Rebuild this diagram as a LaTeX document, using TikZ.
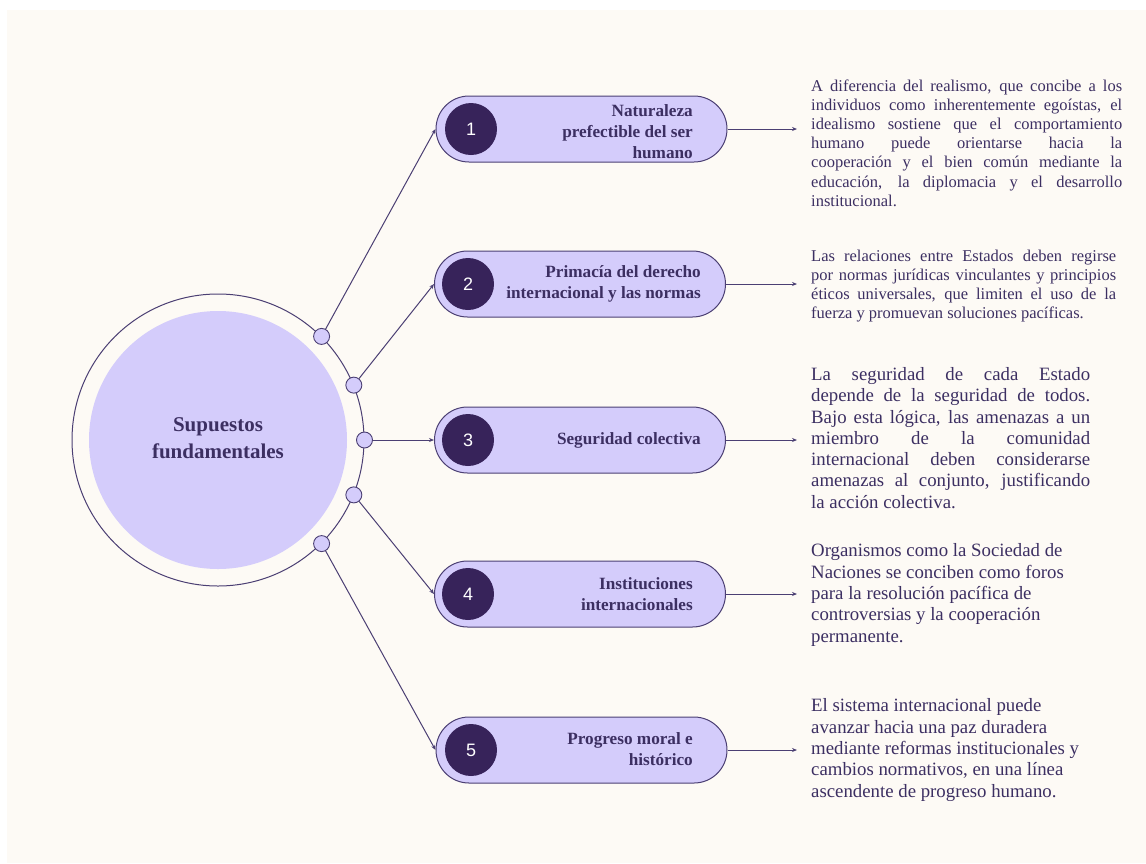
\documentclass[tikz,border=0pt]{standalone}
\usepackage{fontspec}
\setmainfont{Liberation Serif}
\newfontfamily\numfont{Liberation Sans}
\usetikzlibrary{arrows.meta}
\definecolor{bgc}{HTML}{FDFAF5}
\definecolor{lav}{HTML}{D4CCFB}
\definecolor{darkc}{HTML}{37235A}
\definecolor{strokec}{HTML}{4B3F73}
\definecolor{textc}{HTML}{3C2F62}
\tikzset{
  outerring/.style={circle, draw=strokec, line width=1pt, minimum size=292pt, inner sep=0pt},
  innerdisc/.style={circle, fill=lav, minimum size=258pt, inner sep=0pt},
  centertext/.style={align=center, text=textc, inner sep=0pt, font=\bfseries\fontsize{21}{27}\selectfont},
  dot/.style={circle, draw=strokec, fill=lav, line width=0.9pt, minimum size=16pt, inner sep=0pt},
  pill/.style={rectangle, rounded corners=33pt, minimum width=291pt, minimum height=66pt, fill=lav, draw=strokec, line width=1pt, inner sep=0pt},
  numc/.style={circle, fill=darkc, minimum size=52pt, inner sep=0pt, text=white, font=\numfont\fontsize{18}{18}\selectfont},
  plabel/.style={align=right, anchor=east, text=textc, inner sep=0pt, font=\bfseries\fontsize{17.2}{21}\selectfont},
  conn/.style={draw=strokec, line width=1pt, -{Stealth[length=5pt,width=4pt]}},
  descs/.style={align=left, anchor=west, text=textc, inner sep=0pt, font=\fontsize{16.5}{19.2}\selectfont},
  descl/.style={align=left, anchor=west, text=textc, inner sep=0pt, font=\fontsize{18.8}{21.3}\selectfont}
}
\newcommand{\jl}[2]{\makebox[#1pt][s]{#2}}
\begin{document}
\begin{tikzpicture}[x=1pt,y=-1pt]
\useasboundingbox (0,0) rectangle (1146,863);
\fill[white] (0,0) rectangle (1146,863);
\fill[bgc] (7,10) rectangle (1146,863);

% central circle
\node[outerring] (outer) at (218,440) {};
\node[innerdisc] (inner) at (218,440) {};
\node[centertext] (ctext) at (218,438) {Supuestos\\fundamentales};

% dots on ring
\node[dot] (s1) at (outer.45) {};
\node[dot] (s2) at (outer.22) {};
\node[dot] (s3) at (outer.0) {};
\node[dot] (s4) at (outer.-22) {};
\node[dot] (s5) at (outer.-45) {};

% pills
\node[pill] (p1) at (581.5,129) {};
\node[pill] (p2) at (580,284) {};
\node[pill] (p3) at (580,440) {};
\node[pill] (p4) at (580,594) {};
\node[pill] (p5) at (581.5,750) {};

\node[numc] (n1) at (471,129) {1};
\node[numc] (n2) at (468,284) {2};
\node[numc] (n3) at (468,440) {3};
\node[numc] (n4) at (468,594) {4};
\node[numc] (n5) at (471,750) {5};

\node[plabel] (l1) at (693,132) {Naturaleza\\prefectible del ser\\humano};
\node[plabel] (l2) at (701,284) {Primacía del derecho\\internacional y las normas};
\node[plabel] (l3) at (701,440) {Seguridad colectiva};
\node[plabel] (l4) at (693,594) {Instituciones\\internacionales};
\node[plabel] (l5) at (693,749) {Progreso moral e\\histórico};

% connectors from ring to pills
\draw[conn] (s1) -- (p1.west);
\draw[conn] (s2) -- (p2.west);
\draw[conn] (s3) -- (p3.west);
\draw[conn] (s4) -- (p4.west);
\draw[conn] (s5) -- (p5.west);

% arrows to descriptions
\coordinate (a1) at (797,129);
\coordinate (a2) at (797,284);
\coordinate (a3) at (797,440);
\coordinate (a4) at (797,594);
\coordinate (a5) at (797,750);
\draw[conn] (p1.east) -- (a1);
\draw[conn] (p2.east) -- (a2);
\draw[conn] (p3.east) -- (a3);
\draw[conn] (p4.east) -- (a4);
\draw[conn] (p5.east) -- (a5);

% descriptions
\node[descs] (d1) at (811,143) {%
\jl{311}{A diferencia del realismo, que concibe a los}\\
\jl{311}{individuos como inherentemente egoístas, el}\\
\jl{311}{idealismo sostiene que el comportamiento}\\
\jl{311}{humano puede orientarse hacia la}\\
\jl{311}{cooperación y el bien común mediante la}\\
\jl{311}{educación, la diplomacia y el desarrollo}\\
institucional.};

\node[descs] (d2) at (811,286) {%
\jl{305}{Las relaciones entre Estados deben regirse}\\
\jl{305}{por normas jurídicas vinculantes y principios}\\
\jl{305}{éticos universales, que limiten el uso de la}\\
fuerza y promuevan soluciones pacíficas.};

\node[descl] (d3) at (811,438) {%
\jl{279}{La seguridad de cada Estado}\\
\jl{279}{depende de la seguridad de todos.}\\
\jl{279}{Bajo esta lógica, las amenazas a un}\\
\jl{279}{miembro de la comunidad}\\
\jl{279}{internacional deben considerarse}\\
\jl{279}{amenazas al conjunto, justificando}\\
la acción colectiva.};

\node[descl] (d4) at (811,595) {%
Organismos como la Sociedad de\\
Naciones se conciben como foros\\
para la resolución pacífica de\\
controversias y la cooperación\\
permanente.};

\node[descl] (d5) at (811,750) {%
El sistema internacional puede\\
avanzar hacia una paz duradera\\
mediante reformas institucionales y\\
cambios normativos, en una línea\\
ascendente de progreso humano.};
\end{tikzpicture}
\end{document}
